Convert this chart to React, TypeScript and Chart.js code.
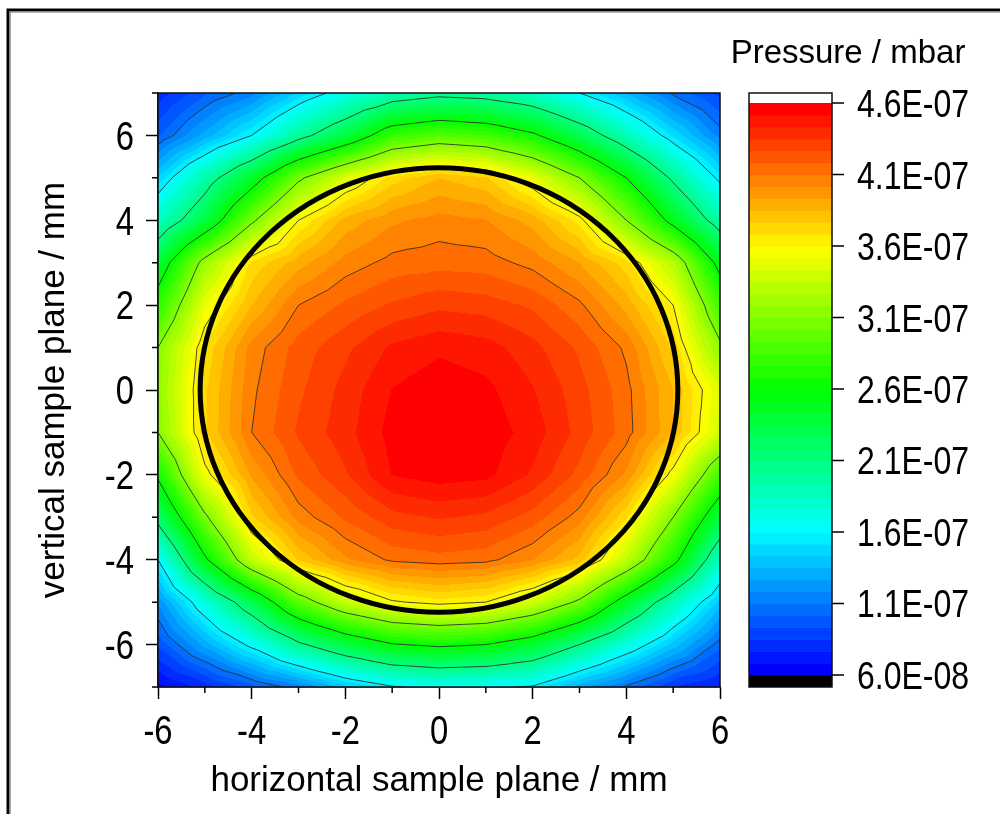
import React, { useEffect, useRef } from 'react';
import { Chart, registerables } from 'chart.js';

Chart.register(...registerables);

// ---- data (pressure in units of 1e-7 mbar) ----
const X_COORDS = [-6, -5, -4, -3, -2, -1, 0, 1, 2, 3, 4, 5, 6];
const Y_COORDS = [7, 6, 5, 4, 3, 2, 1, 0, -1, -2, -3, -4, -5, -6, -7];

const ROW_Y7 = [0.80, 1.00, 1.15, 1.45, 1.70, 1.92, 2.02, 1.98, 1.85, 1.60, 1.35, 1.08, 0.90];
const ROW_Y6 = [1.00, 1.30, 1.60, 2.00, 2.35, 2.80, 2.92, 2.85, 2.65, 2.30, 1.90, 1.50, 1.15];
const ROW_Y5 = [1.45, 1.95, 2.45, 3.05, 3.45, 3.72, 3.85, 3.78, 3.50, 3.10, 2.60, 2.05, 1.55];
const ROW_Y4 = [1.85, 2.35, 3.05, 3.60, 3.88, 4.00, 4.05, 4.02, 3.90, 3.65, 3.10, 2.50, 1.95];
const ROW_Y3 = [2.40, 3.20, 3.70, 3.90, 4.05, 4.13, 4.15, 4.14, 4.07, 3.93, 3.72, 3.30, 2.50];
const ROW_Y2 = [2.75, 3.50, 3.85, 4.10, 4.20, 4.28, 4.33, 4.31, 4.25, 4.12, 3.90, 3.60, 2.85];
const ROW_Y1 = [3.10, 3.70, 4.05, 4.22, 4.33, 4.45, 4.50, 4.47, 4.38, 4.25, 4.08, 3.75, 3.15];
const ROW_Y0 = [3.15, 3.75, 4.08, 4.25, 4.38, 4.52, 4.57, 4.54, 4.44, 4.30, 4.13, 3.85, 3.45];
const ROW_YM1 = [3.10, 3.75, 4.10, 4.28, 4.40, 4.55, 4.59, 4.57, 4.48, 4.32, 4.14, 3.85, 3.40];
const ROW_YM2 = [2.65, 3.55, 3.95, 4.20, 4.34, 4.52, 4.56, 4.54, 4.42, 4.24, 4.00, 3.55, 2.85];
const ROW_YM3 = [2.20, 3.05, 3.75, 4.05, 4.20, 4.32, 4.36, 4.33, 4.23, 4.06, 3.70, 3.10, 2.35];
const ROW_YM4 = [1.60, 2.55, 3.35, 3.78, 4.00, 4.12, 4.15, 4.13, 4.02, 3.82, 3.35, 2.70, 1.85];
const ROW_YM5 = [1.20, 1.75, 2.30, 2.95, 3.35, 3.58, 3.65, 3.60, 3.40, 3.05, 2.45, 1.90, 1.40];
const ROW_YM6 = [0.95, 1.30, 1.65, 2.05, 2.35, 2.58, 2.65, 2.60, 2.42, 2.10, 1.75, 1.40, 1.05];
const ROW_YM7 = [0.65, 0.80, 0.98, 1.15, 1.40, 1.58, 1.65, 1.63, 1.58, 1.30, 1.08, 0.85, 0.75];

const PRESSURE_GRID = [
  ROW_Y7, ROW_Y6, ROW_Y5, ROW_Y4, ROW_Y3, ROW_Y2, ROW_Y1, ROW_Y0,
  ROW_YM1, ROW_YM2, ROW_YM3, ROW_YM4, ROW_YM5, ROW_YM6, ROW_YM7,
];

const CONTOUR_LEVELS = [1.1, 1.6, 2.1, 2.6, 3.1, 3.6, 4.1];
const CB_TICKS = [0.6, 1.1, 1.6, 2.1, 2.6, 3.1, 3.6, 4.1, 4.6];
const LEVEL_MIN = 0.6;
const LEVEL_MAX = 4.6;
const N_BANDS = 48;
const CB_MIN = 0.516;
const CB_MAX = 4.67;

// sample aperture (mm)
const APERTURE_CX = 0;
const APERTURE_CY = 0;
const APERTURE_RX = 5.1;
const APERTURE_RY = 5.24;

const X_TITLE = 'horizontal sample plane / mm';
const Y_TITLE = 'vertical sample plane / mm';
const CB_TITLE = 'Pressure / mbar';

const FONT = '"Liberation Sans", Arial, Helvetica, sans-serif';
const TICK_CONDENSE = 0.82;

// ---- colour map ----
const CMAP_STOPS: number[][] = [
  [0, 0, 0, 255],
  [0.25, 0, 255, 255],
  [0.5, 0, 255, 0],
  [0.75, 255, 255, 0],
  [1, 255, 0, 0],
];

function cmap(t: number): number[] {
  const tt = Math.max(0, Math.min(1, t));
  for (let i = 0; i < CMAP_STOPS.length - 1; i++) {
    const a = CMAP_STOPS[i], b = CMAP_STOPS[i + 1];
    if (tt <= b[0]) {
      const f = (tt - a[0]) / (b[0] - a[0]);
      return [
        Math.round(a[1] + f * (b[1] - a[1])),
        Math.round(a[2] + f * (b[2] - a[2])),
        Math.round(a[3] + f * (b[3] - a[3])),
      ];
    }
  }
  const l = CMAP_STOPS[CMAP_STOPS.length - 1];
  return [l[1], l[2], l[3]];
}

const BAND_COLORS: number[][] = Array.from({ length: N_BANDS }, (_, k) => cmap(k / (N_BANDS - 1)));

function bandColor(v: number): number[] {
  if (v < LEVEL_MIN) return [0, 0, 0];
  if (v > LEVEL_MAX) return [255, 255, 255];
  const step = (LEVEL_MAX - LEVEL_MIN) / N_BANDS;
  const k = Math.min(N_BANDS - 1, Math.floor((v - LEVEL_MIN) / step));
  return BAND_COLORS[k];
}

function interp(xv: number, yv: number): number {
  const nx = X_COORDS.length, ny = Y_COORDS.length;
  const dx = X_COORDS[1] - X_COORDS[0];
  const dy = Y_COORDS[1] - Y_COORDS[0];
  const fi = (xv - X_COORDS[0]) / dx;
  const fj = (yv - Y_COORDS[0]) / dy;
  const i = Math.min(nx - 2, Math.max(0, Math.floor(fi)));
  const j = Math.min(ny - 2, Math.max(0, Math.floor(fj)));
  const u = Math.min(1, Math.max(0, fi - i));
  const w = Math.min(1, Math.max(0, fj - j));
  const g = PRESSURE_GRID;
  const p00 = g[j][i], p10 = g[j][i + 1], p01 = g[j + 1][i], p11 = g[j + 1][i + 1];
  const c = (p00 + p10 + p01 + p11) / 4;
  if (w <= u && w <= 1 - u) return (1 - u - w) * p00 + (u - w) * p10 + 2 * w * c;
  if (u >= w && u >= 1 - w) return (u - w) * p10 + (u + w - 1) * p11 + 2 * (1 - u) * c;
  if (w >= u && w >= 1 - u) return (u + w - 1) * p11 + (w - u) * p01 + 2 * (1 - w) * c;
  return (w - u) * p01 + (1 - u - w) * p00 + 2 * u * c;
}

function cellTriangles(i: number, j: number): number[][][] {
  const g = PRESSURE_GRID;
  const P00 = [X_COORDS[i], Y_COORDS[j], g[j][i]];
  const P10 = [X_COORDS[i + 1], Y_COORDS[j], g[j][i + 1]];
  const P01 = [X_COORDS[i], Y_COORDS[j + 1], g[j + 1][i]];
  const P11 = [X_COORDS[i + 1], Y_COORDS[j + 1], g[j + 1][i + 1]];
  const C = [
    (X_COORDS[i] + X_COORDS[i + 1]) / 2,
    (Y_COORDS[j] + Y_COORDS[j + 1]) / 2,
    (P00[2] + P10[2] + P01[2] + P11[2]) / 4,
  ];
  return [[P00, P10, C], [P10, P11, C], [P11, P01, C], [P01, P00, C]];
}

function triSegment(t: number[][], L: number): number[][] | null {
  const out: number[][] = [];
  for (let e = 0; e < 3; e++) {
    const p = t[e], q = t[(e + 1) % 3];
    const a = p[2] - L, b = q[2] - L;
    if ((a < 0) !== (b < 0)) {
      const s = a / (a - b);
      out.push([p[0] + s * (q[0] - p[0]), p[1] + s * (q[1] - p[1])]);
    }
  }
  return out.length === 2 ? out : null;
}

function fmtSci(v: number): string {
  const val = v * 1e-7;
  let exp = Math.floor(Math.log10(val) + 1e-9);
  let mant = val / Math.pow(10, exp);
  if (Number(mant.toFixed(1)) >= 10) { mant /= 10; exp += 1; }
  const sign = exp < 0 ? '-' : '+';
  return `${mant.toFixed(1)}E${sign}${String(Math.abs(exp)).padStart(2, '0')}`;
}

const isMajor = (v: number) => Math.abs(v % 2) === 0;

const CB_LEFT = 749;
const CB_RIGHT = 832;

const pressurePlugin = {
  id: 'pressureMap',
  beforeDatasetsDraw(chart: any) {
    const { ctx, chartArea: a, scales } = chart;
    const xs = scales.x, ys = scales.y;
    const left = Math.round(a.left), top = Math.round(a.top);
    const w = Math.round(a.right) - left, h = Math.round(a.bottom) - top;
    const off = document.createElement('canvas');
    off.width = w; off.height = h;
    const octx = off.getContext('2d') as CanvasRenderingContext2D;
    const img = octx.createImageData(w, h);
    const d = img.data;
    for (let py = 0; py < h; py++) {
      const yv = ys.getValueForPixel(top + py + 0.5);
      for (let px = 0; px < w; px++) {
        const xv = xs.getValueForPixel(left + px + 0.5);
        const c = bandColor(interp(xv, yv));
        const o = (py * w + px) * 4;
        d[o] = c[0]; d[o + 1] = c[1]; d[o + 2] = c[2]; d[o + 3] = 255;
      }
    }
    octx.putImageData(img, 0, 0);
    ctx.save();
    ctx.drawImage(off, left, top);
    ctx.beginPath();
    ctx.rect(a.left, a.top, a.right - a.left, a.bottom - a.top);
    ctx.clip();
    // contour lines
    ctx.strokeStyle = 'rgba(45,45,45,0.85)';
    ctx.lineWidth = 1;
    for (const L of CONTOUR_LEVELS) {
      ctx.beginPath();
      for (let j = 0; j < Y_COORDS.length - 1; j++) {
        for (let i = 0; i < X_COORDS.length - 1; i++) {
          for (const t of cellTriangles(i, j)) {
            const s = triSegment(t, L);
            if (!s) continue;
            ctx.moveTo(xs.getPixelForValue(s[0][0]), ys.getPixelForValue(s[0][1]));
            ctx.lineTo(xs.getPixelForValue(s[1][0]), ys.getPixelForValue(s[1][1]));
          }
        }
      }
      ctx.stroke();
    }
    // aperture circle
    const cx = xs.getPixelForValue(APERTURE_CX);
    const cy = ys.getPixelForValue(APERTURE_CY);
    const rx = Math.abs(xs.getPixelForValue(APERTURE_CX + APERTURE_RX) - cx);
    const ry = Math.abs(ys.getPixelForValue(APERTURE_CY + APERTURE_RY) - cy);
    ctx.beginPath();
    ctx.ellipse(cx, cy, rx, ry, 0, 0, Math.PI * 2);
    ctx.strokeStyle = '#000';
    ctx.lineWidth = 5;
    ctx.stroke();
    ctx.restore();
  },
  afterDraw(chart: any) {
    const { ctx, chartArea: a, scales } = chart;
    const xs = scales.x, ys = scales.y, cb = scales.cb;
    ctx.save();
    // plot frame
    ctx.strokeStyle = '#111';
    ctx.lineWidth = 1.5;
    ctx.strokeRect(a.left, a.top, a.right - a.left, a.bottom - a.top);
    // minor ticks
    ctx.strokeStyle = '#000';
    ctx.lineWidth = 1.5;
    ctx.beginPath();
    for (const t of xs.ticks) {
      if (!isMajor(t.value)) {
        const p = xs.getPixelForValue(t.value);
        ctx.moveTo(p, a.bottom); ctx.lineTo(p, a.bottom + 6);
      }
    }
    for (const t of ys.ticks) {
      if (!isMajor(t.value)) {
        const p = ys.getPixelForValue(t.value);
        ctx.moveTo(a.left, p); ctx.lineTo(a.left - 6, p);
      }
    }
    ctx.stroke();
    // colour bar
    const step = (LEVEL_MAX - LEVEL_MIN) / N_BANDS;
    for (let k = 0; k < N_BANDS; k++) {
      const v0 = LEVEL_MIN + k * step;
      const yT = cb.getPixelForValue(v0 + step);
      const yB = cb.getPixelForValue(v0);
      const c = BAND_COLORS[k];
      ctx.fillStyle = `rgb(${c[0]},${c[1]},${c[2]})`;
      ctx.fillRect(CB_LEFT, yT, CB_RIGHT - CB_LEFT, yB - yT + 0.6);
    }
    ctx.fillStyle = '#000';
    ctx.fillRect(CB_LEFT, cb.getPixelForValue(LEVEL_MIN), CB_RIGHT - CB_LEFT, a.bottom - cb.getPixelForValue(LEVEL_MIN));
    ctx.fillStyle = '#fff';
    ctx.fillRect(CB_LEFT, a.top, CB_RIGHT - CB_LEFT, cb.getPixelForValue(LEVEL_MAX) - a.top);
    ctx.strokeStyle = '#111';
    ctx.lineWidth = 1.5;
    ctx.strokeRect(CB_LEFT, a.top, CB_RIGHT - CB_LEFT, a.bottom - a.top);
    ctx.beginPath();
    for (const t of cb.ticks) {
      const p = cb.getPixelForValue(t.value);
      ctx.moveTo(CB_RIGHT, p); ctx.lineTo(CB_RIGHT + 12, p);
    }
    ctx.strokeStyle = '#000';
    ctx.stroke();

    // tick labels (condensed face, as in the original figure)
    const drawCondensed = (text: string, x: number, y: number, align: CanvasTextAlign) => {
      ctx.save();
      ctx.translate(x, y);
      ctx.scale(TICK_CONDENSE, 1);
      ctx.textAlign = align;
      ctx.fillText(text, 0, 0);
      ctx.restore();
    };
    ctx.fillStyle = '#000';
    ctx.textBaseline = 'alphabetic';
    ctx.font = `40px ${FONT}`;
    for (const t of xs.ticks) {
      if (isMajor(t.value)) drawCondensed(String(t.value), xs.getPixelForValue(t.value), 744, 'center');
    }
    for (const t of ys.ticks) {
      if (isMajor(t.value)) drawCondensed(String(t.value), 134, ys.getPixelForValue(t.value) + 14.3, 'right');
    }
    ctx.font = `39px ${FONT}`;
    for (const t of cb.ticks) {
      drawCondensed(fmtSci(t.value), 857, cb.getPixelForValue(t.value) + 14, 'left');
    }

    // titles
    ctx.textAlign = 'center';
    ctx.font = `33px ${FONT}`;
    ctx.fillText(CB_TITLE, 848, 63);
    ctx.font = `35px ${FONT}`;
    ctx.fillText(X_TITLE, (a.left + a.right) / 2, 791);
    ctx.save();
    ctx.translate(64, (a.top + a.bottom) / 2);
    ctx.rotate(-Math.PI / 2);
    ctx.fillText(Y_TITLE, 0, 0);
    ctx.restore();
    // outer frame
    ctx.strokeStyle = '#000';
    ctx.lineWidth = 3;
    ctx.beginPath();
    ctx.moveTo(8, chart.height + 5);
    ctx.lineTo(8, 10);
    ctx.lineTo(chart.width + 5, 10);
    ctx.stroke();
    ctx.strokeStyle = '#9a9a9a';
    ctx.lineWidth = 1.2;
    ctx.beginPath();
    ctx.moveTo(10.3, chart.height + 5);
    ctx.lineTo(10.3, 12.2);
    ctx.lineTo(chart.width + 5, 12.2);
    ctx.stroke();
    ctx.restore();
  },
};

const majorTickColor = (c: any) =>
  c.tick && isMajor(c.tick.value) ? '#000' : 'rgba(0,0,0,0)';

export default function App() {
  const canvasRef = useRef<HTMLCanvasElement | null>(null);

  useEffect(() => {
    if (!canvasRef.current) return;
    Chart.defaults.font.family = FONT;
    const chart = new Chart(canvasRef.current, {
      type: 'scatter',
      data: { datasets: [] },
      options: {
        responsive: false,
        animation: false,
        devicePixelRatio: 1,
        layout: { padding: { top: 93, left: 0, right: 0, bottom: 0 } },
        plugins: { legend: { display: false }, tooltip: { enabled: false } },
        scales: {
          x: {
            type: 'linear',
            position: 'bottom',
            min: -6,
            max: 6,
            afterFit: (s: any) => { s.height = 127; },
            ticks: { stepSize: 1, autoSkip: false, display: false },
            grid: {
              display: true, drawOnChartArea: false, drawTicks: true, tickLength: 12,
              tickWidth: 1.5, tickColor: majorTickColor, color: 'rgba(0,0,0,0)',
            },
            border: { display: true, color: '#111', width: 1.5 },
          },
          y: {
            type: 'linear',
            position: 'left',
            min: -7,
            max: 7,
            afterFit: (s: any) => { s.width = 158; },
            ticks: { stepSize: 1, autoSkip: false, display: false },
            grid: {
              display: true, drawOnChartArea: false, drawTicks: true, tickLength: 12,
              tickWidth: 1.5, tickColor: majorTickColor, color: 'rgba(0,0,0,0)',
            },
            border: { display: true, color: '#111', width: 1.5 },
          },
          cb: {
            type: 'linear',
            position: 'right',
            min: CB_MIN,
            max: CB_MAX,
            afterFit: (s: any) => { s.width = 280; },
            afterBuildTicks: (s: any) => { s.ticks = CB_TICKS.map((v) => ({ value: v })); },
            ticks: { autoSkip: false, display: false },
            grid: { display: false, drawTicks: false },
            border: { display: false },
          },
        },
      },
      plugins: [pressurePlugin],
    } as any);
    return () => { chart.destroy(); };
  }, []);

  return (
    <div style={{ position: 'absolute', left: 0, top: 0, width: 1000, height: 814, background: '#fff' }}>
      <canvas ref={canvasRef} width={1000} height={814} style={{ display: 'block' }} />
    </div>
  );
}
